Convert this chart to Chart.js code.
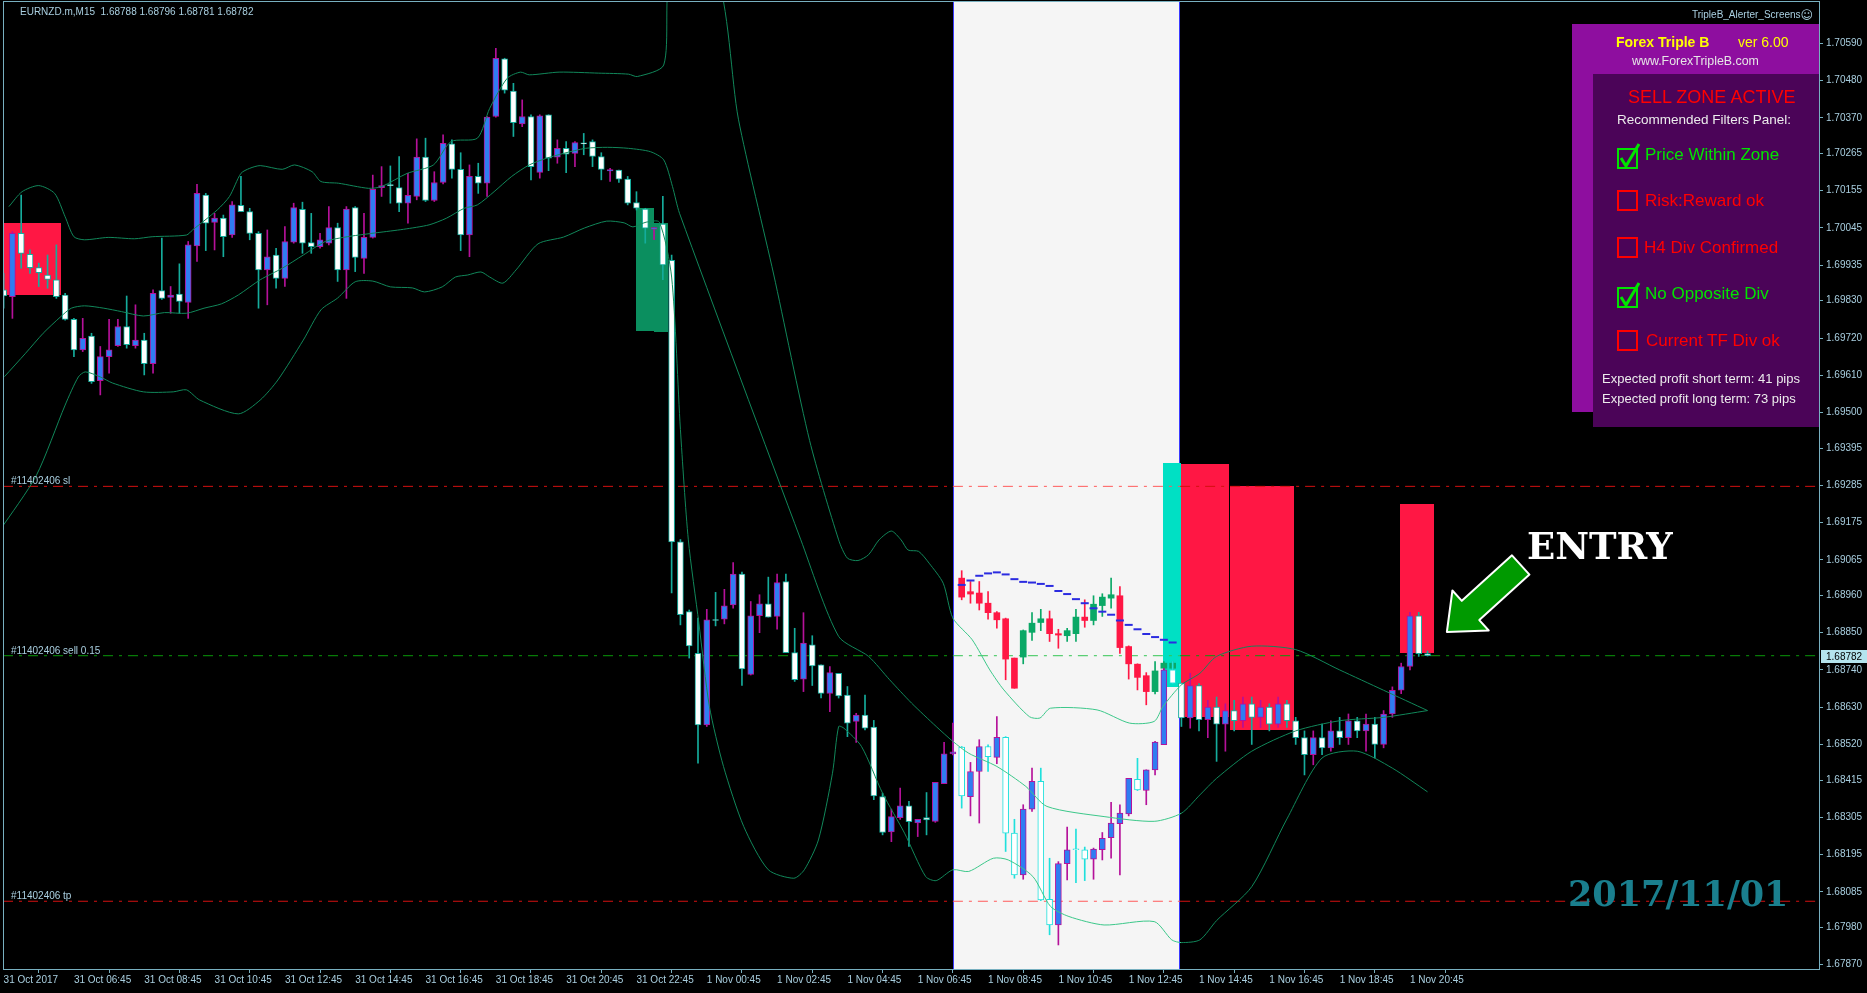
<!DOCTYPE html>
<html lang="en">
<head>
<meta charset="UTF-8">
<title>EURNZD.m M15 - Forex Triple B</title>
<script src="https://cdn.jsdelivr.net/npm/chart.js@4.4.1/dist/chart.umd.min.js"></script>
<style>
  body { margin: 0; background: #000; overflow: hidden; font-family: 'Liberation Sans', Arial, sans-serif; }
  #wrap { position: relative; width: 1867px; height: 993px; }
  #chart { position: absolute; left: 0; top: 0; }
  .t { position: absolute; white-space: pre; line-height: 1; }
  .info { color: #a9cfe0; font-size: 10px; }
  .box { position: absolute; }
  .chk { position: absolute; width: 17px; height: 17px; border: 2px solid; }
  .green { color: #00e400; border-color: #00e400; }
  .red { color: #ff0000; border-color: #ff0000; }
  .flt { font-size: 17px; }
  .pan { color: #ececec; font-size: 13px; }
  .slab { font-family: 'DejaVu Serif', serif; font-weight: bold; }
</style>
</head>
<body>
<div id="wrap">
  <canvas id="chart" width="1867" height="993"></canvas>

  <div class="t info" style="left:20px;top:7px">EURNZD.m,M15  1.68788 1.68796 1.68781 1.68782</div>
  <div class="t info" style="left:1692px;top:8px">TripleB_Alerter_Screens<span style="font-family:'DejaVu Sans';font-size:12px;position:relative;top:1px">☺</span></div>

  <div class="box" style="left:1572px;top:24px;width:247px;height:388px;background:#8e0e9f"></div>
  <div class="box" style="left:1593px;top:74px;width:226px;height:353px;background:#4b0458"></div>

  <div class="t" style="left:1616px;top:35px;font-size:14px;font-weight:bold;color:#ffff00">Forex Triple B</div>
  <div class="t" style="left:1738px;top:35px;font-size:14px;color:#ffff00">ver 6.00</div>
  <div class="t" style="left:1632px;top:55px;font-size:12.4px;color:#e6e6e6">www.ForexTripleB.com</div>
  <div class="t" style="left:1628px;top:88px;font-size:18px;color:#ff0000">SELL ZONE ACTIVE</div>
  <div class="t pan" style="left:1617px;top:113px;font-size:13.5px">Recommended Filters Panel:</div>

  <div class="chk green" style="left:1617px;top:148px"></div>
  <svg class="box" style="left:1617px;top:141px" width="26" height="30"><polyline points="4,17 9,25 22,3" fill="none" stroke="#00e400" stroke-width="3"/></svg>
  <div class="t flt green" style="left:1645px;top:146px">Price Within Zone</div>

  <div class="chk red" style="left:1617px;top:190px"></div>
  <div class="t flt red" style="left:1645px;top:192px">Risk:Reward ok</div>

  <div class="chk red" style="left:1617px;top:237px"></div>
  <div class="t flt red" style="left:1644px;top:239px">H4 Div Confirmed</div>

  <div class="chk green" style="left:1617px;top:287px"></div>
  <svg class="box" style="left:1617px;top:280px" width="26" height="30"><polyline points="4,17 9,25 22,3" fill="none" stroke="#00e400" stroke-width="3"/></svg>
  <div class="t flt green" style="left:1645px;top:285px">No Opposite Div</div>

  <div class="chk red" style="left:1617px;top:330px"></div>
  <div class="t flt red" style="left:1646px;top:332px">Current TF Div ok</div>

  <div class="t pan" style="left:1602px;top:372px">Expected profit short term: 41 pips</div>
  <div class="t pan" style="left:1602px;top:392px">Expected profit long term: 73 pips</div>

  <div class="t slab" style="left:1527px;top:528px;font-size:37px;color:#ffffff">ENTRY</div>
  <div class="t slab" style="left:1568px;top:876px;font-size:35px;color:#1a7f8e">2017/11/01</div>
</div>

<script>
  // ---------- data ----------
  const timeLabels = [
    '31 Oct 2017', '31 Oct 06:45', '31 Oct 08:45', '31 Oct 10:45', '31 Oct 12:45', '31 Oct 14:45',
    '31 Oct 16:45', '31 Oct 18:45', '31 Oct 20:45', '31 Oct 22:45', '1 Nov 00:45', '1 Nov 02:45',
    '1 Nov 04:45', '1 Nov 06:45', '1 Nov 08:45', '1 Nov 10:45', '1 Nov 12:45', '1 Nov 14:45',
    '1 Nov 16:45', '1 Nov 18:45', '1 Nov 20:45'
  ];
  const barsPerLabel = 8;

  const priceTicks = [
    1.70590, 1.70480, 1.70370, 1.70265, 1.70155, 1.70045, 1.69935, 1.69830, 1.69720, 1.69610,
    1.69500, 1.69395, 1.69285, 1.69175, 1.69065, 1.68960, 1.68850, 1.68740, 1.68630, 1.68520,
    1.68415, 1.68305, 1.68195, 1.68085, 1.67980, 1.67870
  ];

  const opens = [
    1.69862,1.69842,1.70029,1.69967,1.69928,1.69906,1.69892,1.69847,1.69775,1.69685,
    1.69726,1.69594,1.69665,1.69697,1.69754,1.69697,1.69714,1.69644,1.69860,1.69840,
    1.69850,1.69825,1.69992,1.70142,1.70061,1.70074,1.70024,1.70112,1.70093,1.70029,
    1.69921,1.69965,1.69896,1.70003,1.70100,1.70002,1.69990,1.70000,1.70046,1.69921,
    1.70105,1.69955,1.70017,1.70164,1.70170,1.70164,1.70118,1.70138,1.70254,1.70126,
    1.70179,1.70293,1.70218,1.70024,1.70197,1.70177,1.70374,1.70544,1.70449,1.70352,
    1.70374,1.70209,1.70379,1.70254,1.70280,1.70265,1.70293,1.70300,1.70256,1.70213,
    1.70216,1.70189,1.70120,1.70101,1.70041,1.70056,1.69949,1.69118,1.68912,1.68789,
    1.68578,1.68886,1.68890,1.68932,1.69023,1.68727,1.68900,1.68935,1.68898,1.69001,
    1.68791,1.68713,1.68814,1.68755,1.68671,1.68730,1.68666,1.68588,1.68607,1.68571,
    1.68366,1.68262,1.68304,1.68339,1.68288,1.68304,1.68293,1.68404,1.68492,1.68512,
    1.68366,1.68440,1.68514,1.68482,1.68541,1.68258,1.68135,1.68329,1.68411,1.68063,
    1.67987,1.68168,1.68209,1.68209,1.68181,1.68209,1.68245,1.68286,1.68315,1.68417,
    1.68384,1.68445,1.68519,1.68740,1.68701,1.68598,1.68694,1.68593,1.68630,1.68580,
    1.68620,1.68590,1.68640,1.68600,1.68630,1.68580,1.68640,1.68590,1.68540,1.68490,
    1.68540,1.68510,1.68560,1.68540,1.68590,1.68560,1.68580,1.68520,1.68610,1.68680,
    1.68750,1.68900,1.68788
  ];
  const highs = [
    1.69911,1.70034,1.70142,1.69980,1.69941,1.69965,1.69995,1.69852,1.69778,1.69778,
    1.69734,1.69695,1.69775,1.69775,1.69844,1.69818,1.69734,1.69862,1.70015,1.69872,
    1.69939,1.70005,1.70174,1.70147,1.70088,1.70083,1.70123,1.70197,1.70103,1.70034,
    1.70039,1.69985,1.70049,1.70118,1.70121,1.70088,1.70029,1.70108,1.70059,1.70108,
    1.70108,1.70088,1.70201,1.70226,1.70228,1.70256,1.70206,1.70308,1.70310,1.70211,
    1.70320,1.70305,1.70267,1.70231,1.70236,1.70374,1.70575,1.70546,1.70472,1.70423,
    1.70379,1.70379,1.70379,1.70305,1.70300,1.70300,1.70324,1.70305,1.70267,1.70221,
    1.70216,1.70197,1.70152,1.70103,1.70046,1.70138,1.69965,1.69125,1.68917,1.68893,
    1.68919,1.68969,1.68978,1.69057,1.69029,1.68942,1.68962,1.69014,1.69023,1.69023,
    1.68863,1.68909,1.68841,1.68755,1.68750,1.68730,1.68691,1.68612,1.68666,1.68591,
    1.68376,1.68329,1.68391,1.68352,1.68299,1.68378,1.68408,1.68526,1.68583,1.68514,
    1.68467,1.68534,1.68519,1.68602,1.68543,1.68299,1.68342,1.68450,1.68450,1.68184,
    1.68174,1.68276,1.68270,1.68217,1.68214,1.68260,1.68349,1.68342,1.68420,1.68479,
    1.68445,1.68529,1.68745,1.68765,1.68701,1.68730,1.68700,1.68650,1.68660,1.68640,
    1.68650,1.68660,1.68660,1.68650,1.68640,1.68660,1.68650,1.68600,1.68560,1.68560,
    1.68580,1.68590,1.68600,1.68610,1.68600,1.68610,1.68600,1.68620,1.68690,1.68760,
    1.68910,1.68910,1.68796
  ];
  const lows = [
    1.69808,1.69778,1.69926,1.69911,1.69872,1.69867,1.69837,1.69773,1.69665,1.69680,
    1.69586,1.69552,1.69616,1.69695,1.69690,1.69690,1.69611,1.69616,1.69834,1.69793,
    1.69793,1.69778,1.69946,1.69978,1.69980,1.69960,1.70017,1.70093,1.70010,1.69808,
    1.69818,1.69867,1.69872,1.70000,1.69970,1.69970,1.69985,1.69995,1.69887,1.69837,
    1.69916,1.69911,1.70015,1.70138,1.70118,1.70093,1.70059,1.70128,1.70123,1.70123,
    1.70175,1.70192,1.69978,1.69960,1.70147,1.70138,1.70372,1.70443,1.70315,1.70344,
    1.70187,1.70192,1.70214,1.70236,1.70208,1.70226,1.70261,1.70226,1.70187,1.70182,
    1.70179,1.70113,1.70098,1.70000,1.70010,1.69892,1.68967,1.68873,1.68775,1.68465,
    1.68573,1.68870,1.68876,1.68922,1.68694,1.68725,1.68850,1.68896,1.68860,1.68791,
    1.68706,1.68676,1.68694,1.68657,1.68617,1.68657,1.68543,1.68526,1.68563,1.68357,
    1.68253,1.68233,1.68299,1.68219,1.68248,1.68253,1.68290,1.68404,1.68489,1.68332,
    1.68309,1.68288,1.68440,1.68463,1.68204,1.68125,1.68122,1.68322,1.68059,1.67958,
    1.67928,1.68120,1.68112,1.68118,1.68122,1.68179,1.68184,1.68135,1.68309,1.68384,
    1.68342,1.68430,1.68519,1.68699,1.68573,1.68568,1.68560,1.68540,1.68470,1.68500,
    1.68560,1.68570,1.68520,1.68570,1.68560,1.68570,1.68570,1.68520,1.68430,1.68460,
    1.68490,1.68500,1.68520,1.68520,1.68540,1.68500,1.68480,1.68510,1.68600,1.68670,
    1.68740,1.68780,1.68781
  ];
  const closes = [
    1.69844,1.70029,1.69970,1.69928,1.69913,1.69893,1.69842,1.69775,1.69685,1.69719,
    1.69591,1.69665,1.69685,1.69754,1.69700,1.69714,1.69644,1.69852,1.69837,1.69847,
    1.69828,1.69995,1.70147,1.70059,1.70074,1.70019,1.70113,1.70093,1.70029,1.69921,
    1.69960,1.69896,1.70005,1.70105,1.70000,1.69990,1.70010,1.70046,1.69921,1.70101,
    1.69958,1.70017,1.70159,1.70170,1.70170,1.70118,1.70141,1.70254,1.70126,1.70179,
    1.70295,1.70218,1.70024,1.70197,1.70177,1.70372,1.70546,1.70452,1.70356,1.70374,
    1.70226,1.70376,1.70251,1.70280,1.70263,1.70297,1.70293,1.70256,1.70218,1.70217,
    1.70189,1.70118,1.70103,1.70044,1.70046,1.69936,1.69118,1.68903,1.68811,1.68578,
    1.68888,1.68886,1.68929,1.69023,1.68743,1.68900,1.68935,1.68896,1.68998,1.68791,
    1.68711,1.68819,1.68752,1.68671,1.68732,1.68663,1.68583,1.68607,1.68568,1.68368,
    1.68260,1.68307,1.68339,1.68292,1.68299,1.68297,1.68408,1.68492,1.68498,1.68368,
    1.68440,1.68514,1.68484,1.68541,1.68258,1.68135,1.68329,1.68411,1.68061,1.67987,
    1.68168,1.68209,1.68209,1.68181,1.68211,1.68243,1.68288,1.68317,1.68420,1.68386,
    1.68445,1.68527,1.68740,1.68701,1.68598,1.68694,1.68593,1.68630,1.68580,1.68620,
    1.68590,1.68640,1.68600,1.68630,1.68580,1.68640,1.68590,1.68540,1.68490,1.68540,
    1.68510,1.68560,1.68540,1.68590,1.68560,1.68580,1.68520,1.68610,1.68680,1.68750,
    1.68900,1.68788,1.68782
  ];

  // second candle set drawn by the zone indicator (bars 109..133)
  const ghostStart = 109;
  const ghostOpens  = [1.69011,1.68971,1.68967,1.68937,1.68909,1.68891,1.68775,1.68778,1.68851,1.68880,1.68891,1.68847,1.68841,1.68847,1.68896,1.68886,1.68930,1.68952,1.68959,1.68809,1.68757,1.68723,1.68676,1.68745,1.68745];
  const ghostHighs  = [1.69033,1.69001,1.69001,1.68971,1.68912,1.68893,1.68775,1.68858,1.68909,1.68919,1.68914,1.68860,1.68863,1.68919,1.68947,1.68959,1.68965,1.69011,1.68986,1.68811,1.68758,1.68732,1.68765,1.68765,1.68765];
  const ghostLows   = [1.68947,1.68937,1.68917,1.68890,1.68863,1.68711,1.68686,1.68758,1.68827,1.68856,1.68824,1.68804,1.68824,1.68824,1.68866,1.68873,1.68898,1.68922,1.68789,1.68713,1.68681,1.68637,1.68669,1.68740,1.68740];
  const ghostCloses = [1.68955,1.68964,1.68937,1.68909,1.68888,1.68772,1.68686,1.68856,1.68878,1.68891,1.68847,1.68843,1.68856,1.68896,1.68886,1.68934,1.68955,1.68962,1.68806,1.68758,1.68718,1.68676,1.68737,1.68760,1.68760];
  const zoneLine    = [1.68991,1.69004,1.69018,1.69025,1.69028,1.69022,1.69008,1.69000,1.68998,1.68994,1.68988,1.68973,1.68964,1.68949,1.68937,1.68922,1.68912,1.68903,1.68886,1.68873,1.68860,1.68846,1.68837,1.68829,1.68821];

  // Bollinger bands, [bar, price]
  const upperBand = [
    [0.6,1.70108],[2.1,1.70152],[4,1.70170],[5.8,1.70147],[7,1.70078],[8,1.70019],[9.2,1.70010],[11.9,1.70017],
    [14.9,1.70013],[16.9,1.70019],[20.8,1.70024],[21.5,1.70039],[24.3,1.70098],[25.7,1.70138],[27,1.70206],[28,1.70221],
    [29.2,1.70229],[31.7,1.70218],[33.1,1.70231],[35.1,1.70211],[36.1,1.70182],[38.1,1.70177],[41.5,1.70162],[43,1.70167],
    [45.9,1.70206],[48.9,1.70231],[50.9,1.70300],[53.9,1.70310],[55.3,1.70398],[57.3,1.70487],[58.8,1.70505],[59.8,1.70497],
    [63.2,1.70505],[67.7,1.70502],[71.1,1.70499],[72.1,1.70492],[75.1,1.70526],[76,1.70800],[81,1.70800],[83.6,1.70366],
    [87.6,1.69909],[91.7,1.69417],[95,1.69124],[96,1.69070],[97.2,1.69063],[98.4,1.69080],[99.6,1.69124],[101,1.69150],
    [102.1,1.69124],[102.9,1.69094],[104.1,1.69090],[105.3,1.69055],[106.9,1.68996],[108,1.68893],[110.2,1.68829],[112.2,1.68740],
    [113.8,1.68681],[116.7,1.68602],[117.9,1.68598],[119.1,1.68627],[124.4,1.68622],[128.1,1.68583],[130.9,1.68588],[131.9,1.68632],
    [134,1.68696],[136.1,1.68730],[138,1.68780],[142,1.68810],[147,1.68800],[152,1.68740],[157,1.68680],[162,1.68620]
  ];
  const middleBand = [
    [0.1,1.69606],[2.5,1.69675],[4.5,1.69734],[6.5,1.69783],[7.7,1.69808],[9.2,1.69815],[11.4,1.69808],[13.4,1.69798],
    [15.9,1.69785],[18.3,1.69795],[20.8,1.69793],[22.8,1.69808],[24.8,1.69821],[26.7,1.69847],[29.2,1.69892],[31.7,1.69926],
    [34.1,1.69965],[36.6,1.70005],[39.1,1.70019],[41,1.70026],[42.5,1.70031],[45.5,1.70041],[48.4,1.70054],[50.4,1.70074],
    [52.4,1.70103],[53.9,1.70113],[55.8,1.70152],[57.8,1.70197],[59.8,1.70231],[61.8,1.70251],[63.7,1.70265],[66.2,1.70280],
    [68.7,1.70283],[71.1,1.70280],[73.6,1.70270],[75.1,1.70246],[76.1,1.70167],[76.9,1.70088],[90.7,1.69124],[95,1.68839],
    [98.4,1.68780],[100.8,1.68711],[103.3,1.68642],[106.1,1.68573],[108,1.68529],[109.8,1.68494],[113,1.68455],[116.3,1.68396],
    [118.7,1.68337],[125.2,1.68307],[130.9,1.68293],[134,1.68317],[136.1,1.68371],[138,1.68420],[142,1.68500],[147,1.68560],
    [152,1.68590],[157,1.68600],[162,1.68620]
  ];
  const lowerBand = [
    [-0.4,1.69153],[3.7,1.69313],[7,1.69522],[8.5,1.69605],[9.3,1.69620],[11,1.69605],[12.4,1.69587],[15.9,1.69561],
    [19.3,1.69561],[20.8,1.69567],[22.3,1.69537],[26.7,1.69496],[29.2,1.69537],[31.2,1.69596],[34.1,1.69714],[36.1,1.69803],
    [38,1.69838],[40,1.69886],[42,1.69888],[44,1.69871],[46.5,1.69868],[47.9,1.69856],[49.9,1.69871],[51.4,1.69900],
    [52.8,1.69906],[54.3,1.69915],[55.3,1.69900],[56.8,1.69882],[58.3,1.69921],[60.8,1.69998],[63.7,1.70018],[66.1,1.70045],
    [68.6,1.70065],[70.6,1.70060],[71.6,1.70048],[73.1,1.70062],[74.6,1.70062],[76,1.69900],[77,1.69450],[77.9,1.69124],
    [79.1,1.68878],[80.3,1.68632],[81.9,1.68455],[84.2,1.68278],[87,1.68150],[89.9,1.68125],[91.1,1.68150],[92.7,1.68238],
    [94.3,1.68435],[95,1.68573],[95.6,1.68568],[97.6,1.68514],[100,1.68376],[102.5,1.68258],[104.9,1.68130],[106.1,1.68118],
    [108,1.68150],[109.8,1.68145],[112.6,1.68184],[114.3,1.68179],[117.1,1.68130],[119.1,1.68042],[121.2,1.68012],[125.2,1.67987],
    [130.9,1.67997],[132.9,1.67943],[134,1.67935],[136.1,1.67943],[138,1.68000],[142,1.68100],[146,1.68300],[150,1.68480],
    [154,1.68500],[158,1.68450],[162,1.68380]
  ];

  // trade levels of order #11402406
  const stopLoss = 1.69282;
  const entryPrice = 1.68782;
  const takeProfit = 1.68057;

  // highlighted session (bars) and indicator zones: [fromBar, toBar, low, high, kind]
  const lightZone = [108.0, 133.85];
  const zones = [
    [-0.5, 6.6, 1.69847, 1.70059, 'sell'],
    [71.95, 74.0, 1.69740, 1.70103, 'buy'],
    [74.0, 75.6, 1.69736, 1.70059, 'buy'],
    [131.9, 134.0, 1.68690, 1.69351, 'entry'],
    [134.0, 139.5, 1.68600, 1.69347, 'sell'],
    [139.5, 146.8, 1.68565, 1.69284, 'sell'],
    [158.9, 162.8, 1.68792, 1.69231, 'sell']
  ];
  const arrowTail = [172.6, 1.69050];
  const arrowTip = [164.2, 1.68852];

  // ---------- style ----------
  const AXIS = '#78b0c0';
  const TEXT = '#a9cfe0';
  const BULL_BODY = '#2f7df2', BULL_LINE = '#b5119a';
  const BEAR_BODY = '#ffffff', BEAR_LINE = '#15ac9c', BEAR_LINE_LIGHT = '#1fe0dc';
  const BAND = '#11875a', BAND_LIGHT = '#3cc88a';
  const GHOST_UP = '#0aa866', GHOST_DN = '#ff1744';
  const ZONE_COLORS = { sell: '#ff1744', buy: '#0b8f5f', entry: '#00e0c4' };
  const LEVEL_RED = '#d41010', LEVEL_RED_LIGHT = '#ff5a5a';
  const LEVEL_GREEN = '#0a9a0a', LEVEL_GREEN_LIGHT = '#33c653';
  const FONT = { family: "'Liberation Sans', Arial, sans-serif", size: 10 };

  const inLight = v => v >= lightZone[0] && v < lightZone[1];
  const bars = opens.map((o, i) => i);
  const isBull = i => closes[i] > opens[i];

  const bodyData = bars.map(i => ({ x: i, y: [opens[i], closes[i]] }));
  const wickData = bars.map(i => ({ x: i, y: [lows[i], highs[i]] }));
  const bearLine = i => inLight(i) ? BEAR_LINE_LIGHT : BEAR_LINE;
  const lineColor = bars.map(i => isBull(i) ? BULL_LINE : bearLine(i));
  const bodyColor = bars.map(i => isBull(i) ? BULL_BODY : BEAR_BODY);

  const gIdx = ghostOpens.map((o, k) => k);
  const ghostBody = gIdx.map(k => ({ x: ghostStart + k, y: [ghostOpens[k], ghostCloses[k]] }));
  const ghostWick = gIdx.map(k => ({ x: ghostStart + k, y: [ghostLows[k], ghostHighs[k]] }));
  const ghostColor = gIdx.map(k => ghostCloses[k] > ghostOpens[k] ? GHOST_UP : GHOST_DN);

  const xMin = -0.07, xMax = 206.65;
  const yMin = 1.67857, yMax = 1.70715;

  const levelData = p => [xMin, lightZone[0], lightZone[1], xMax].map(x => ({ x, y: p }));
  const segColor = (dark, light) => ({ borderColor: c => inLight(c.p0.parsed.x) ? light : dark });

  const band = (pts) => ({
    type: 'line', data: pts.map(([x, y]) => ({ x, y })), borderColor: BAND, borderWidth: 1,
    pointRadius: 0, tension: 0.25, order: 0, segment: segColor(BAND, BAND_LIGHT)
  });
  const level = (p, dark, light) => ({
    type: 'line', data: levelData(p), borderColor: dark, borderWidth: 1, borderDash: [10, 6, 3, 6],
    pointRadius: 0, order: 6, segment: segColor(dark, light)
  });
  const barSet = (data, bg, border, thick, order, extra) => Object.assign({
    type: 'bar', data, backgroundColor: bg, borderColor: border, borderWidth: 0,
    barThickness: thick, grouped: false, borderSkipped: false, minBarLength: 1, order
  }, extra || {});

  const decor = {
    id: 'decor',
    beforeDatasetsDraw(chart) {
      const { ctx, chartArea: a, scales: { x, y } } = chart;
      ctx.save();
      ctx.beginPath();
      ctx.rect(a.left, a.top, a.right - a.left, a.bottom - a.top);
      ctx.clip();
      const l0 = Math.round(x.getPixelForValue(lightZone[0]));
      const l1 = Math.round(x.getPixelForValue(lightZone[1]));
      ctx.fillStyle = '#f5f5f5';
      ctx.fillRect(l0, a.top, l1 - l0, a.bottom - a.top);
      ctx.strokeStyle = '#3a3aff';
      ctx.lineWidth = 1;
      ctx.beginPath();
      ctx.moveTo(l0 + 0.5, a.top); ctx.lineTo(l0 + 0.5, a.bottom);
      ctx.moveTo(l1 - 0.5, a.top); ctx.lineTo(l1 - 0.5, a.bottom);
      ctx.stroke();
      zones.forEach(([from, to, lo, hi, kind]) => {
        const x0 = x.getPixelForValue(from), x1 = x.getPixelForValue(to);
        const y0 = y.getPixelForValue(hi), y1 = y.getPixelForValue(lo);
        ctx.fillStyle = ZONE_COLORS[kind];
        ctx.fillRect(Math.round(x0), Math.round(y0), Math.round(x1 - x0), Math.round(y1 - y0));
      });
      ctx.restore();
    },
    afterDatasetsDraw(chart) {
      const { ctx, chartArea: a, scales: { x, y } } = chart;
      ctx.save();
      // order labels on the level lines
      ctx.font = "10px 'Liberation Sans', Arial, sans-serif";
      ctx.fillStyle = TEXT;
      ctx.textBaseline = 'alphabetic';
      [[stopLoss, '#11402406 sl'], [entryPrice, '#11402406 sell 0.15'], [takeProfit, '#11402406 tp']]
        .forEach(([p, label]) => ctx.fillText(label, a.left + 8, Math.round(y.getPixelForValue(p)) - 2));

      // entry arrow
      const tx = x.getPixelForValue(arrowTip[0]), ty = y.getPixelForValue(arrowTip[1]);
      const cx = x.getPixelForValue(arrowTail[0]), cy = y.getPixelForValue(arrowTail[1]);
      const len = Math.hypot(tx - cx, ty - cy);
      const ux = (tx - cx) / len, uy = (ty - cy) / len;
      const nx = -uy, ny = ux;
      const w = 13, hw = 27, hl = 32;
      const hx = tx - ux * hl, hy = ty - uy * hl;
      ctx.beginPath();
      ctx.moveTo(cx + nx * w, cy + ny * w);
      ctx.lineTo(hx + nx * w, hy + ny * w);
      ctx.lineTo(hx + nx * hw, hy + ny * hw);
      ctx.lineTo(tx, ty);
      ctx.lineTo(hx - nx * hw, hy - ny * hw);
      ctx.lineTo(hx - nx * w, hy - ny * w);
      ctx.lineTo(cx - nx * w, cy - ny * w);
      ctx.closePath();
      ctx.fillStyle = '#009a00';
      ctx.fill();
      ctx.strokeStyle = '#ffffff';
      ctx.lineWidth = 2;
      ctx.lineJoin = 'round';
      ctx.stroke();
      ctx.restore();
    },
    afterDraw(chart) {
      const { ctx, chartArea: a, scales: { y } } = chart;
      ctx.save();
      ctx.strokeStyle = AXIS;
      ctx.lineWidth = 1;
      ctx.strokeRect(a.left + 0.5, a.top + 0.5, a.right - a.left - 1, a.bottom - a.top);
      // current price tag
      const py = Math.round(y.getPixelForValue(closes[closes.length - 1]));
      ctx.fillStyle = '#b4e4ee';
      ctx.fillRect(a.right + 1, py - 6, 46, 13);
      ctx.fillStyle = '#000000';
      ctx.font = "10px 'Liberation Sans', Arial, sans-serif";
      ctx.textBaseline = 'middle';
      ctx.fillText(closes[closes.length - 1].toFixed(5), a.right + 6, py + 1);
      ctx.restore();
    }
  };

  new Chart(document.getElementById('chart'), {
    type: 'bar',
    data: {
      datasets: [
        band(upperBand), band(middleBand), band(lowerBand),
        level(stopLoss, LEVEL_RED, LEVEL_RED_LIGHT),
        level(entryPrice, LEVEL_GREEN, LEVEL_GREEN_LIGHT),
        level(takeProfit, LEVEL_RED, LEVEL_RED_LIGHT),
        barSet(ghostWick, ghostColor, ghostColor, 1, 5),
        barSet(ghostBody, ghostColor, ghostColor, 6, 4),
        {
          type: 'line', data: zoneLine.map((p, k) => ({ x: ghostStart + k, y: p })), showLine: false,
          pointStyle: 'line', pointRadius: 4, pointBorderWidth: 2, pointBorderColor: '#2b2be0', order: 3
        },
        barSet(wickData, lineColor, lineColor, 1, 2),
        barSet(bodyData, bodyColor, lineColor, 6, 1, { borderWidth: 1 })
      ]
    },
    options: {
      responsive: false,
      animation: false,
      devicePixelRatio: 1,
      events: [],
      layout: { autoPadding: false, padding: { left: 3, top: 1, right: 0, bottom: 0 } },
      plugins: { legend: { display: false }, tooltip: { enabled: false } },
      scales: {
        x: {
          type: 'linear', min: xMin, max: xMax, offset: false,
          grid: { display: true, drawOnChartArea: false, drawTicks: true, tickLength: 4, color: AXIS },
          border: { display: false },
          ticks: {
            color: TEXT, font: FONT, align: 'start', padding: 1, maxRotation: 0, autoSkip: false,
            callback: (v, idx) => timeLabels[idx]
          },
          afterBuildTicks: s => { s.ticks = timeLabels.map((t, k) => ({ value: k * barsPerLabel })); },
          afterFit: s => { s.height = 24; s.paddingLeft = 0; s.paddingRight = 0; }
        },
        y: {
          position: 'right', min: yMin, max: yMax,
          grid: { display: true, drawOnChartArea: false, drawTicks: true, tickLength: 3, color: AXIS },
          border: { display: false },
          ticks: { color: TEXT, font: FONT, padding: 3, callback: v => v.toFixed(5) },
          afterBuildTicks: s => { s.ticks = priceTicks.map(v => ({ value: v })); },
          afterFit: s => { s.width = 47; s.paddingTop = 0; s.paddingBottom = 0; }
        }
      }
    },
    plugins: [decor]
  });
</script>
</body>
</html>
